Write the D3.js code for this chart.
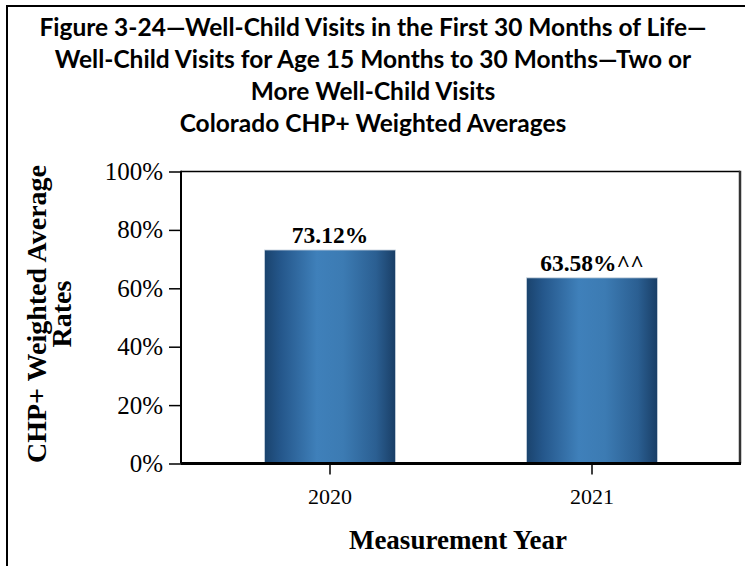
<!DOCTYPE html>
<html>
<head>
<meta charset="utf-8">
<script src="https://cdn.jsdelivr.net/npm/d3@7"></script>
<style>
  html, body { margin: 0; padding: 0; background: #fff; }
  svg { display: block; }
</style>
</head>
<body>
<svg id="chart" width="745" height="566"></svg>
<script>
// Chart data
const years = ["2020", "2021"];
const rates = [0.7312, 0.6358];
const rateLabels = ["73.12%", "63.58%^^"];
const yTicks = [0, 0.2, 0.4, 0.6, 0.8, 1.0];
const titleLines = [
  "Figure 3-24\u2014Well-Child Visits in the First 30 Months of Life\u2014",
  "Well-Child Visits for Age 15 Months to 30 Months\u2014Two or",
  "More Well-Child Visits",
  "Colorado CHP+ Weighted Averages"
];

const svg = d3.select("#chart");
const serif = "'Liberation Serif', 'Times New Roman', serif";

// Outer frame (right and bottom edges fall outside the canvas)
svg.append("path")
  .attr("d", "M7,566 V6 H745")
  .attr("fill", "none").attr("stroke", "#000").attr("stroke-width", 2);

// Title
const titleFont = "Lato, 'Open Sans', sans-serif";
const titleY = [36, 68, 100, 132];
svg.append("g").selectAll("text").data(titleLines).join("text")
  .attr("x", 373).attr("y", (d, i) => titleY[i])
  .attr("text-anchor", "middle")
  .attr("font-family", titleFont).attr("font-weight", "bold")
  .attr("font-size", 24.5).attr("fill", "#000")
  .text(d => d);

// Plot geometry
const plot = { left: 181, right: 740, top: 171.5, bottom: 463.5 };

const y = d3.scaleLinear().domain([0, 1]).range([plot.bottom, plot.top]);
const x = d3.scaleBand().domain(years)
  .range([199, 723]).paddingInner(0.5).paddingOuter(0.25);

// Bar gradient: dark edges, lighter centre
const defs = svg.append("defs");
const grad = defs.append("linearGradient").attr("id", "barGrad")
  .attr("x1", "0%").attr("x2", "100%").attr("y1", "0%").attr("y2", "0%");
[["0%", "#1a436d"], ["12%", "#24568a"], ["40%", "#3f80ba"], ["60%", "#3c7bb3"], ["85%", "#2b5f92"], ["100%", "#193e66"]]
  .forEach(([o, c]) => grad.append("stop").attr("offset", o).attr("stop-color", c));

// Bars
svg.append("g").selectAll("rect").data(years).join("rect")
  .attr("x", d => x(d))
  .attr("y", (d, i) => y(rates[i]))
  .attr("width", x.bandwidth())
  .attr("height", (d, i) => y(0) - y(rates[i]))
  .attr("fill", "url(#barGrad)")
  .attr("stroke", "#c9d4df").attr("stroke-width", 0.8);

// Value labels
svg.append("g").selectAll("text").data(years).join("text")
  .attr("x", d => x(d) + x.bandwidth() / 2)
  .attr("y", (d, i) => y(rates[i]) - 7)
  .attr("text-anchor", "middle")
  .attr("font-family", serif)
  .attr("font-weight", "bold").attr("font-size", 23.5).attr("fill", "#000")
  .text((d, i) => rateLabels[i]);

// Plot frame: top, right
svg.append("line").attr("x1", plot.left).attr("x2", plot.right)
  .attr("y1", plot.top).attr("y2", plot.top)
  .attr("stroke", "#000").attr("stroke-width", 1.5);
svg.append("line").attr("x1", plot.right).attr("x2", plot.right)
  .attr("y1", plot.top - 0.75).attr("y2", plot.bottom)
  .attr("stroke", "#333").attr("stroke-width", 2.5);

// Y axis
const yAxis = d3.axisLeft(y).tickValues(yTicks)
  .tickFormat(d3.format(".0%")).tickSize(12).tickPadding(6);
const gy = svg.append("g").attr("transform", `translate(${plot.left},0)`).call(yAxis);
gy.select(".domain").attr("stroke", "#000").attr("stroke-width", 2)
  .attr("d", `M0,${plot.top - 0.75}V${plot.bottom}`);
gy.selectAll(".tick line").attr("stroke", "#000").attr("stroke-width", 1.5);
gy.selectAll(".tick text")
  .attr("font-family", serif)
  .attr("font-size", 25).attr("fill", "#000");

// X axis
const xAxis = d3.axisBottom(x).tickSize(11).tickPadding(14);
const gx = svg.append("g").attr("transform", `translate(0,${plot.bottom})`).call(xAxis);
gx.select(".domain").attr("stroke", "#000").attr("stroke-width", 3)
  .attr("d", `M${plot.left},0H${plot.right + 1}`);
gx.selectAll(".tick line").attr("stroke", "#000").attr("stroke-width", 1.5);
gx.selectAll(".tick text")
  .attr("font-family", serif)
  .attr("font-size", 22).attr("fill", "#000");

// Axis titles
svg.append("text")
  .attr("x", 458).attr("y", 549)
  .attr("text-anchor", "middle")
  .attr("font-family", serif)
  .attr("font-weight", "bold").attr("font-size", 27).attr("fill", "#000")
  .text("Measurement Year");

const yTitle = svg.append("text")
  .attr("transform", "translate(0,314) rotate(-90)")
  .attr("text-anchor", "middle")
  .attr("font-family", serif)
  .attr("font-weight", "bold").attr("font-size", 28).attr("fill", "#000");
yTitle.append("tspan").attr("x", 0).attr("y", 46).text("CHP+ Weighted Average");
yTitle.append("tspan").attr("x", 0).attr("y", 71).text("Rates");
</script>
</body>
</html>
